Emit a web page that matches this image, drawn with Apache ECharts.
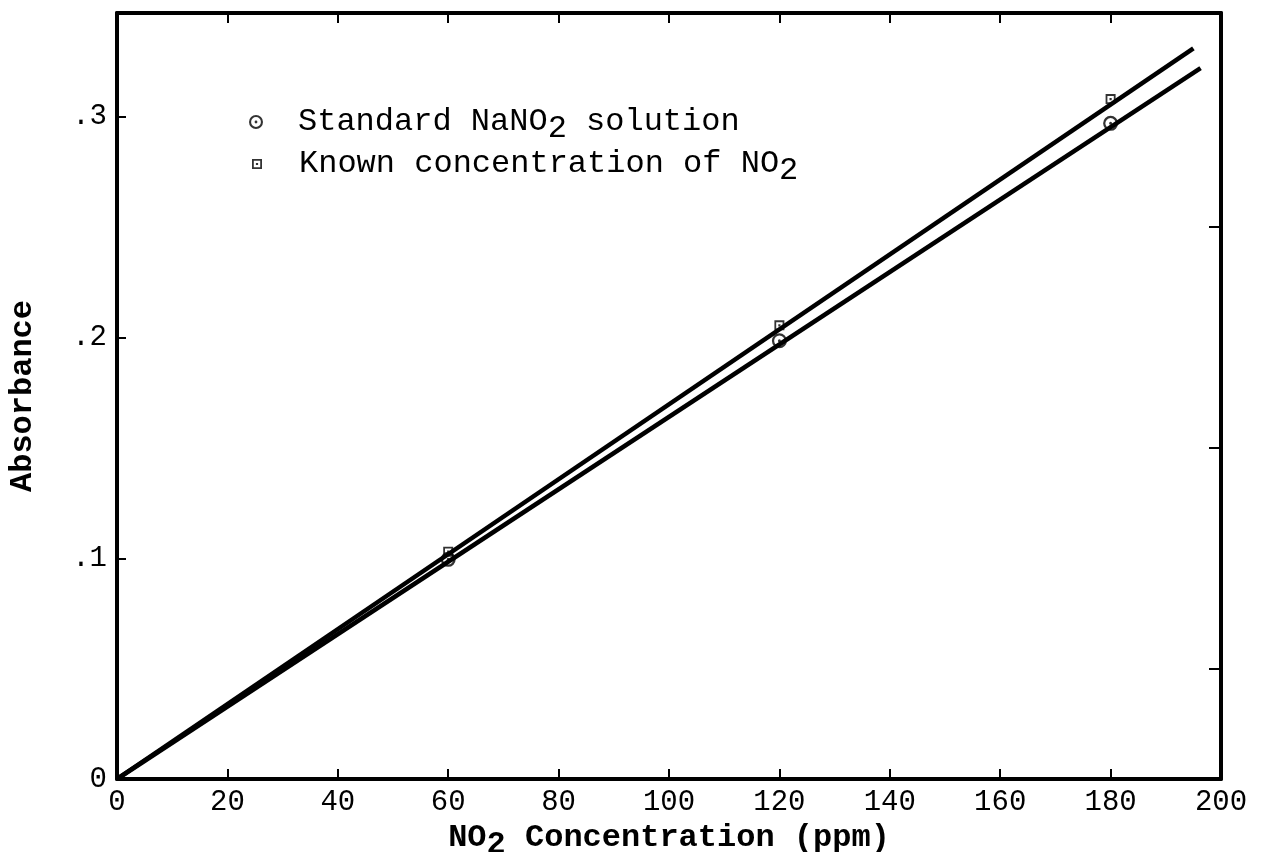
<!DOCTYPE html>
<html>
<head>
<meta charset="utf-8">
<script src="https://cdn.jsdelivr.net/npm/echarts@6/dist/echarts.min.js"></script>
<style>
  html, body { margin: 0; background: #fff; }
  #chart { width: 1264px; height: 852px; }
</style>
</head>
<body>
<div id="chart"></div>
<script>
// measured points
var standardConc = [60, 120, 180];
var standardAbs = [0.0995, 0.1985, 0.297];
var knownConc = [60, 120, 180];
var knownAbs = [0.103, 0.2055, 0.308];

// fitted lines (end points as drawn)
var standardFitX = [0, 196.3];
var standardFitY = [0, 0.322];
var knownFitX = [0, 195];
var knownFitY = [0, 0.331];

// ticks
var xTicks = [0, 20, 40, 60, 80, 100, 120, 140, 160, 180, 200];
var xTickLabels = ['0', '20', '40', '60', '80', '100', '120', '140', '160', '180', '200'];
var yTicks = [0, 0.1, 0.2, 0.3];
var yTickLabels = ['0', '.1', '.2', '.3'];
var yRightTicks = [0.05, 0.15, 0.25];

var FONT = 'Liberation Mono';
var INK = '#000';

// circle / square with a dot in the middle
var circleDot = 'path://M0,10A10,10,0,1,1,20,10A10,10,0,1,1,0,10Z' +
  'M3,10A7,7,0,1,0,17,10A7,7,0,1,0,3,10Z' +
  'M8,10A2,2,0,1,1,12,10A2,2,0,1,1,8,10Z';
var squareDot = 'path://M0,0H10V10H0Z M1.8,1.8V8.2H8.2V1.8Z M3.9,3.9H6.1V6.1H3.9Z';

function pairs(xs, ys) {
  var out = [];
  for (var i = 0; i < xs.length; i++) out.push([xs[i], ys[i]]);
  return out;
}

function pick(list, labels, v) {
  for (var i = 0; i < list.length; i++) {
    if (Math.abs(list[i] - v) < 1e-6) return labels[i];
  }
  return '';
}

var legendText = {
  fontFamily: FONT, fontSize: 32, color: INK,
  rich: {
    n: { fontFamily: FONT, fontSize: 32, color: INK },
    s: { fontFamily: FONT, fontSize: 32, color: INK, padding: [14, 0, 0, 0] }
  }
};

var chart = echarts.init(document.getElementById('chart'));
chart.setOption({
  backgroundColor: '#fff',
  animation: false,
  grid: { left: 117, right: 43, top: 13, bottom: 73, outerBoundsMode: 'none', containLabel: false },
  legend: [
    {
      data: ['standard'], left: 244, top: 101,
      itemWidth: 74, itemHeight: 14, icon: circleDot,
      formatter: function () { return '{n|Standard NaNO}{s|2}{n| solution}'; },
      textStyle: legendText
    },
    {
      data: ['known'], left: 247, top: 143,
      itemWidth: 74, itemHeight: 10, icon: squareDot,
      formatter: function () { return '{n|Known concentration of NO}{s|2}'; },
      textStyle: legendText
    }
  ],
  xAxis: [
    {
      type: 'value', min: 0, max: 200, interval: 20, position: 'bottom',
      name: '{n|NO}{s|2}{n| Concentration (ppm)}', nameLocation: 'middle', nameGap: 32,
      nameTextStyle: {
        rich: {
          n: { fontFamily: FONT, fontSize: 32, fontWeight: 'bold', color: INK },
          s: { fontFamily: FONT, fontSize: 32, fontWeight: 'bold', color: INK, padding: [14, 0, 0, 0] }
        }
      },
      axisLine: { onZero: false, lineStyle: { color: INK, width: 4 } },
      axisTick: { inside: true, length: 10, lineStyle: { color: INK, width: 2 } },
      axisLabel: {
        customValues: xTicks, margin: 9,
        fontFamily: FONT, fontSize: 29, color: INK,
        formatter: function (v) { return pick(xTicks, xTickLabels, v); }
      },
      splitLine: { show: false }
    },
    {
      type: 'value', min: 0, max: 200, interval: 20, position: 'top',
      axisLine: { onZero: false, lineStyle: { color: INK, width: 4 } },
      axisTick: { inside: true, length: 10, lineStyle: { color: INK, width: 2 } },
      axisLabel: { show: false },
      splitLine: { show: false }
    }
  ],
  yAxis: [
    {
      type: 'value', min: 0, max: 0.347, interval: 0.1, position: 'left',
      name: 'Absorbance', nameLocation: 'middle', nameGap: 78, nameRotate: 90,
      nameTextStyle: { fontFamily: FONT, fontSize: 32, fontWeight: 'bold', color: INK },
      axisLine: { onZero: false, lineStyle: { color: INK, width: 4 } },
      axisTick: { inside: true, length: 9, customValues: yTicks, lineStyle: { color: INK, width: 2 } },
      axisLabel: {
        customValues: yTicks, margin: 10,
        fontFamily: FONT, fontSize: 29, color: INK,
        formatter: function (v) { return pick(yTicks, yTickLabels, v); }
      },
      splitLine: { show: false }
    },
    {
      type: 'value', min: 0, max: 0.347, position: 'right',
      axisLine: { onZero: false, lineStyle: { color: INK, width: 4 } },
      axisTick: { inside: true, length: 12, customValues: yRightTicks, lineStyle: { color: INK, width: 2 } },
      axisLabel: { show: false },
      splitLine: { show: false }
    }
  ],
  series: [
    {
      name: 'standard fit', type: 'line', symbol: 'none', silent: true,
      data: pairs(standardFitX, standardFitY),
      lineStyle: { color: INK, width: 4.5 }
    },
    {
      name: 'known fit', type: 'line', symbol: 'none', silent: true,
      data: pairs(knownFitX, knownFitY),
      lineStyle: { color: INK, width: 4.5 }
    },
    {
      name: 'standard', type: 'scatter', symbol: circleDot, symbolSize: 15,
      itemStyle: { color: INK },
      data: pairs(standardConc, standardAbs)
    },
    {
      name: 'known', type: 'scatter', symbol: squareDot, symbolSize: 10,
      itemStyle: { color: INK },
      data: pairs(knownConc, knownAbs)
    }
  ]
});
</script>
</body>
</html>
